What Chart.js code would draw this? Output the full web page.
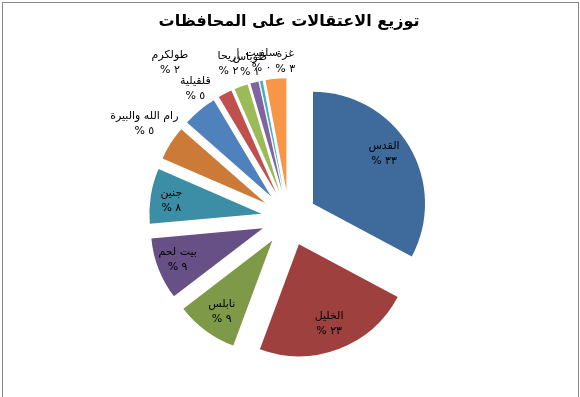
<!DOCTYPE html>
<html lang="ar">
<head>
<meta charset="utf-8">
<script src="https://cdn.jsdelivr.net/npm/chart.js@4.4.0/dist/chart.umd.min.js"></script>
<style>
  html, body { margin: 0; padding: 0; background: #fff; overflow: hidden; }
  #frame { position: absolute; left: 2px; top: 2px; width: 577px; height: 420px; border: 1px solid #878787; box-sizing: border-box; }
  #pieChart { position: absolute; left: 0; top: 0; }
</style>
</head>
<body>
<div id="frame"></div>
<canvas id="pieChart" width="580" height="397"></canvas>
<script>
// Chart data
var chartTitle = 'توزيع الاعتقالات على المحافظات';
var governorates = ['القدس', 'الخليل', 'نابلس', 'بيت لحم', 'جنين', 'رام الله والبيرة',
                    'قلقيلية', 'طولكرم', 'أريحا', 'طوباس', 'سلفيت', 'غزة'];
var arrests = [33, 23, 9, 9, 8, 5, 5, 2, 2, 1.2, 0.4, 3];

// Styling
var sliceColors = ['#3f6a9c', '#9e413e', '#7e9a48', '#665085', '#3b8ea5', '#cc7a38',
                   '#4f81bd', '#c0504d', '#9bbb59', '#8064a2', '#4bacc6', '#f79646'];
var pieRadius = 112;
var explode = 28;         // how far every slice is pulled out, px
var labelFont = '11px "DejaVu Sans"';
// small hand nudges for the data labels (px), like Excel's best-fit shuffling
var labelNudge = [[-2, -6], [0, 0], [0, 3], [-6, 0], [-6, 0], [-1, -3],
                  [10, -5], [-46, -13], [-6, -5], [0, 0], [4, -2], [11, 1]];

function arabicDigits(n) {
    return String(n).replace(/[0-9]/g, function(d) { return '٠١٢٣٤٥٦٧٨٩'[d]; });
}

var total = arrests.reduce(function(a, b) { return a + b; }, 0);

// Pull every slice out by the same distance (Excel style explode).
// Chart.js' own offset option shrinks small slices, so move the arc centres instead.
var explodeSlices = {
    id: 'explodeSlices',
    afterDatasetUpdate: function(chart, args) {
        chart.getDatasetMeta(args.index).data.forEach(function(arc) {
            var mid = (arc.startAngle + arc.endAngle) / 2;
            arc.x += Math.cos(mid) * explode;
            arc.y += Math.sin(mid) * explode;
        });
    }
};

// Draw name + percent for each slice, inside big slices, outside small ones
var sliceLabels = {
    id: 'sliceLabels',
    afterDatasetsDraw: function(chart) {
        var ctx = chart.ctx;
        var meta = chart.getDatasetMeta(0);
        ctx.save();
        ctx.font = labelFont;
        ctx.fillStyle = '#000';
        ctx.textAlign = 'center';
        ctx.textBaseline = 'middle';
        ctx.direction = 'rtl';
        meta.data.forEach(function(arc, i) {
            var p = arc.getProps(['x', 'y', 'startAngle', 'endAngle', 'outerRadius'], true);
            var mid = (p.startAngle + p.endAngle) / 2;
            var dx = Math.cos(mid), dy = Math.sin(mid);
            var pct = Math.round(arrests[i] / total * 100);
            var line2 = arabicDigits(pct) + ' %';
            var w = Math.max(ctx.measureText(governorates[i]).width, ctx.measureText(line2).width);
            var hw = w / 2, hh = 14;
            var dist;
            if (pct >= 8) {
                dist = p.outerRadius * 0.76;
            } else {
                dist = p.outerRadius + 4 + Math.min(hw / Math.max(Math.abs(dx), 0.01), hh / Math.max(Math.abs(dy), 0.01));
            }
            var lx = p.x + dx * dist + labelNudge[i][0];
            var ly = p.y + dy * dist + labelNudge[i][1];
            ctx.fillText(governorates[i], lx, ly - 7.5);
            ctx.fillText(line2, lx, ly + 7.5);
        });
        ctx.restore();
    }
};

var myChart = new Chart(document.getElementById('pieChart').getContext('2d'), {
    type: 'pie',
    data: {
        labels: governorates,
        datasets: [{
            data: arrests,
            backgroundColor: sliceColors,
            borderWidth: 0,
            radius: pieRadius,
            clip: false
        }]
    },
    options: {
        responsive: false,
        animation: false,
        events: [],
        devicePixelRatio: 1,
        layout: { padding: { top: 0, bottom: 53, left: 100, right: 102 } },
        plugins: {
            legend: { display: false },
            tooltip: { enabled: false },
            title: {
                display: true,
                text: chartTitle,
                color: '#000',
                font: { family: 'DejaVu Sans', size: 16, weight: 'bold', lineHeight: 1.2 },
                padding: { top: 12, bottom: 61 }
            }
        }
    },
    plugins: [explodeSlices, sliceLabels]
});
</script>
</body>
</html>
